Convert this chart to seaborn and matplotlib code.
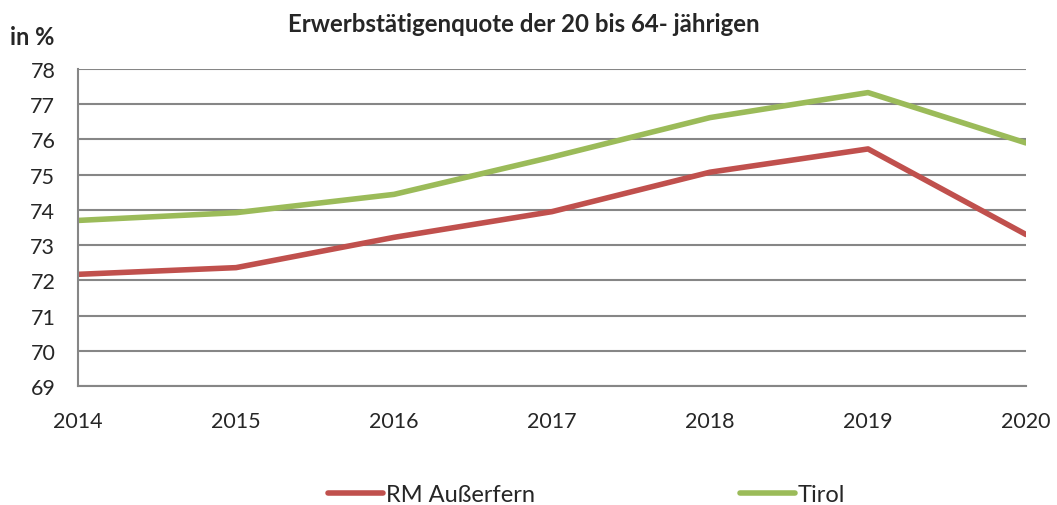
import numpy as np
import pandas as pd
import matplotlib
matplotlib.use("Agg")
import matplotlib.pyplot as plt
import seaborn as sns
from matplotlib.lines import Line2D

years = [2014, 2015, 2016, 2017, 2018, 2019, 2020]
rm_ausserfern = [72.17, 72.36, 73.22, 73.95, 75.07, 75.73, 73.30]
tirol = [73.70, 73.92, 74.44, 75.50, 76.62, 77.33, 75.90]
series_names = ["RM Außerfern", "Tirol"]
colors = ["#C0504D", "#9BBB59"]

df = pd.DataFrame({"Jahr": years, series_names[0]: rm_ausserfern, series_names[1]: tirol})
long = df.melt(id_vars="Jahr", var_name="Region", value_name="Quote")

sns.set_style("white")
plt.rcParams["font.family"] = ["Lato", "DejaVu Sans"]

fig = plt.figure(figsize=(10.57, 5.06), dpi=100)
ax = fig.add_axes([0.0738, 0.2352, 0.8969, 0.6265])

sns.lineplot(data=long, x="Jahr", y="Quote", hue="Region", palette=colors,
             linewidth=4, ax=ax, legend=False)

ax.set_xlim(2014, 2020)
ax.set_ylim(69, 78)
ax.set_yticks(range(69, 79))
ax.set_xticks(years)
ax.yaxis.grid(True, color="#868686", linewidth=1.5)
ax.set_axisbelow(True)
for s in ["top", "right"]:
    ax.spines[s].set_visible(False)
for s in ["left", "bottom"]:
    ax.spines[s].set_color("#868686")
    ax.spines[s].set_linewidth(1.5)
ax.tick_params(axis="both", which="both", length=5.8, width=1.5, color="#868686",
               labelsize=15.5, direction="out")
ax.tick_params(axis="y", pad=10.5)
ax.tick_params(axis="x", pad=12.5)
ax.set_xlabel("")
ax.set_ylabel("")

fig.text(0.496, 0.951, "Erwerbstätigenquote der 20 bis 64- jährigen", ha="center", va="center",
         fontsize=17.3, fontweight="bold")
fig.text(0.009, 0.925, "in %", ha="left", va="center", fontsize=17, fontweight="bold")

handles = [Line2D([], [], color=c, linewidth=4) for c in colors]
fig.legend(handles, series_names, loc="center", bbox_to_anchor=(0.555, 0.02), ncol=2,
           frameon=False, fontsize=17, handlelength=2.33, handletextpad=0.12,
           columnspacing=8.7)

fig.savefig("out.png", dpi=100)
